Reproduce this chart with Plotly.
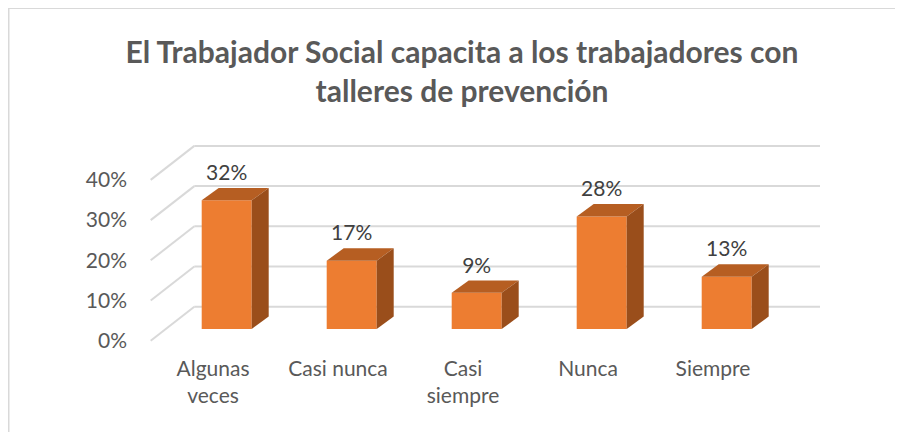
import plotly.graph_objects as go

categories = ["Algunas<br>veces", "Casi nunca", "Casi<br>siempre", "Nunca", "Siempre"]
values = [32, 17, 9, 28, 13]
y_ticks = [0, 10, 20, 30, 40]
title = "El Trabajador Social capacita a los trabajadores con<br>talleres de prevención"

COLORS = {
    "front": "#ED7D31",
    "top": "#B65E22",
    "side": "#9A4E1B",
    "grid": "#D9D9D9",
    "text": "#595959",
    "label": "#404040",
}
FONT = "Lato"

# the page body has an 8px margin, so the figure is drawn 8px smaller and all
# pixel positions below are measured from the reference minus that offset
OFF = 8
W, H = 903 - OFF, 432 - OFF
M_L, M_R, M_T, M_B = 120, 73, 100, 78
X0_PX, X_STEP = 213 - OFF, 125       # first category on the front plane, px per category
Y0_PX, Y_STEP = 340.7 - OFF, 4.02    # 0% on the front plane, px per percent

# pseudo 3d offsets, converted to data units
WALL_DX, WALL_DY = 43.6 / X_STEP, 34 / Y_STEP
WALL_LEFT = (150.7 - OFF - X0_PX) / X_STEP
WALL_RIGHT = (820 - OFF - X0_PX) / X_STEP
BAR_DX, BAR_DY = 13.7 / X_STEP, 11.7 / Y_STEP
DEPTH_DX, DEPTH_DY = 17 / X_STEP, 12.4 / Y_STEP
BAR_W = 50 / X_STEP
LABEL_GAP = 25.5 / Y_STEP

fig = go.Figure()

# front faces
xs = [i + BAR_DX for i in range(len(values))]
fig.add_trace(
    go.Bar(
        x=xs,
        y=values,
        base=[BAR_DY] * len(values),
        width=BAR_W,
        marker={"color": COLORS["front"], "line": {"width": 0}},
        hoverinfo="skip",
        showlegend=False,
    )
)

# top and side faces
for x, v in zip(xs, values):
    xl, xr = x - BAR_W / 2, x + BAR_W / 2
    b, t = BAR_DY, BAR_DY + v
    fig.add_trace(
        go.Scatter(
            x=[xl, xr, xr + DEPTH_DX, xl + DEPTH_DX, xl],
            y=[t, t, t + DEPTH_DY, t + DEPTH_DY, t],
            fill="toself",
            fillcolor=COLORS["top"],
            mode="lines",
            line={"width": 0, "color": COLORS["top"]},
            hoverinfo="skip",
            showlegend=False,
        )
    )
    fig.add_trace(
        go.Scatter(
            x=[xr, xr + DEPTH_DX, xr + DEPTH_DX, xr, xr],
            y=[b, b + DEPTH_DY, t + DEPTH_DY, t, b],
            fill="toself",
            fillcolor=COLORS["side"],
            mode="lines",
            line={"width": 0, "color": COLORS["side"]},
            hoverinfo="skip",
            showlegend=False,
        )
    )

# data labels
fig.add_trace(
    go.Scatter(
        x=xs,
        y=[BAR_DY + v + LABEL_GAP for v in values],
        text=[f"{v}%" for v in values],
        mode="text",
        textposition="middle center",
        textfont={"family": FONT, "size": 21, "color": COLORS["label"]},
        hoverinfo="skip",
        showlegend=False,
        cliponaxis=False,
    )
)

# walls: side wall diagonals and back wall lines, kept below the bars
grid_line = {"color": COLORS["grid"], "width": 2}
shapes = []
for v in y_ticks:
    shapes.append(
        dict(type="line", xref="x", yref="y", layer="below", line=grid_line,
             x0=WALL_LEFT, y0=v, x1=WALL_LEFT + WALL_DX, y1=v + WALL_DY)
    )
    shapes.append(
        dict(type="line", xref="x", yref="y", layer="below", line=grid_line,
             x0=WALL_LEFT + WALL_DX, y0=v + WALL_DY, x1=WALL_RIGHT, y1=v + WALL_DY)
    )

plot_w = W - M_L - M_R
plot_h = H - M_T - M_B


def paper_x(px):
    return (px - M_L) / plot_w


def paper_y(py):
    return (H - M_B - py) / plot_h


# chart frame (left and top edges)
shapes.append(
    dict(type="path", xref="paper", yref="paper", line={"color": COLORS["grid"], "width": 2},
         path=f"M {paper_x(0.5)} {paper_y(H + 5)} L {paper_x(0.5)} {paper_y(0)} L {paper_x(W + 5)} {paper_y(0)}")
)

fig.update_layout(
    width=W,
    height=H,
    margin={"l": M_L, "r": M_R, "t": M_T, "b": M_B, "pad": 0},
    plot_bgcolor="rgba(0,0,0,0)",
    paper_bgcolor="white",
    title={
        "text": title,
        "x": (462 - OFF) / W,
        "xanchor": "center",
        "y": 1 - (63 - OFF) / H,
        "yanchor": "middle",
        "font": {"family": FONT, "size": 30, "color": COLORS["text"], "weight": "bold"},
    },
    xaxis={
        "range": [(M_L - X0_PX) / X_STEP, (W - M_R - X0_PX) / X_STEP],
        "tickvals": list(range(len(categories))),
        "ticktext": categories,
        "showgrid": False,
        "zeroline": False,
        "showline": False,
        "ticks": "",
        "tickfont": {"family": FONT, "size": 21, "color": COLORS["text"]},
        "fixedrange": True,
    },
    yaxis={
        "range": [(Y0_PX - (H - M_B)) / Y_STEP, (Y0_PX - M_T) / Y_STEP],
        "tickvals": y_ticks,
        "ticktext": [f"{v}%" for v in y_ticks],
        "showgrid": False,
        "zeroline": False,
        "showline": False,
        "ticks": "",
        "tickfont": {"family": FONT, "size": 21, "color": COLORS["text"]},
        "fixedrange": True,
    },
    shapes=shapes,
)

fig.write_html("out.html", config={"displayModeBar": False})
